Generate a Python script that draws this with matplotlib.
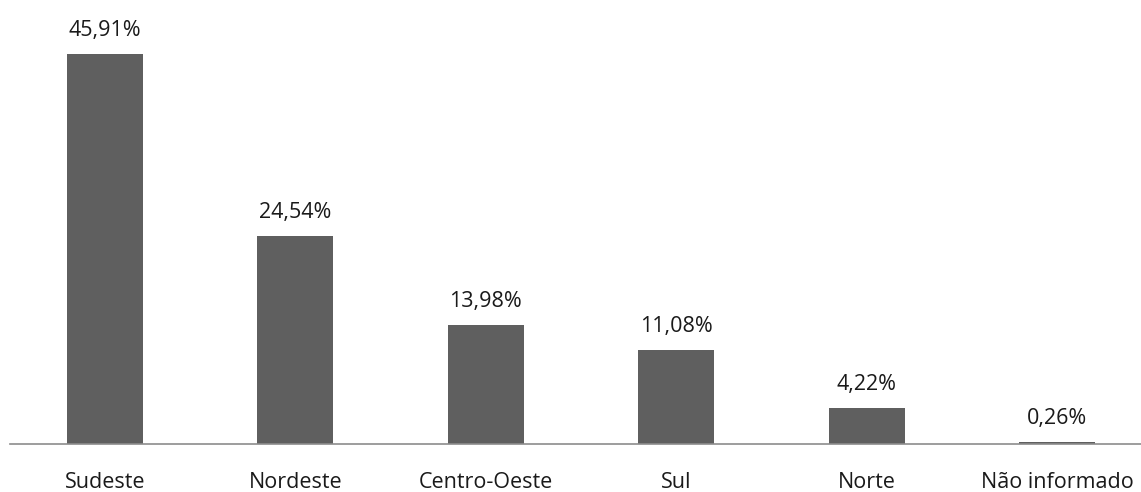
import matplotlib.pyplot as plt

# Regional distribution (%)
regioes = ['Sudeste', 'Nordeste', 'Centro-Oeste', 'Sul', 'Norte', 'Não informado']
valores = [45.91, 24.54, 13.98, 11.08, 4.22, 0.26]
rotulos = ['45,91%', '24,54%', '13,98%', '11,08%', '4,22%', '0,26%']

plt.rcParams['font.family'] = ['Open Sans', 'DejaVu Sans']

fig = plt.figure(figsize=(11.41, 4.92), dpi=100)
W, H = 1141, 492
ax = fig.add_axes([9.5 / W, 48 / H, 1143 / W, 444 / H])

x = range(len(regioes))
ax.bar(x, valores, width=0.4, color='#5f5f5f')

for xi, v, lab in zip(x, valores, rotulos):
    ax.text(xi, v + 2.1, lab, ha='center', va='baseline', fontsize=15.5, color='#1a1a1a')

ax.set_xlim(-0.5, 5.5)
ax.set_ylim(0, 52.27)
ax.set_xticks(list(x))
ax.set_xticklabels(regioes, fontsize=15.5, color='#1a1a1a')
ax.tick_params(axis='x', length=0, pad=20)
ax.set_yticks([])
for s in ['top', 'right', 'left']:
    ax.spines[s].set_visible(False)
ax.spines['bottom'].set_color('#8c8c8c')
ax.spines['bottom'].set_linewidth(1.2)

fig.savefig('out.png', dpi=100)
